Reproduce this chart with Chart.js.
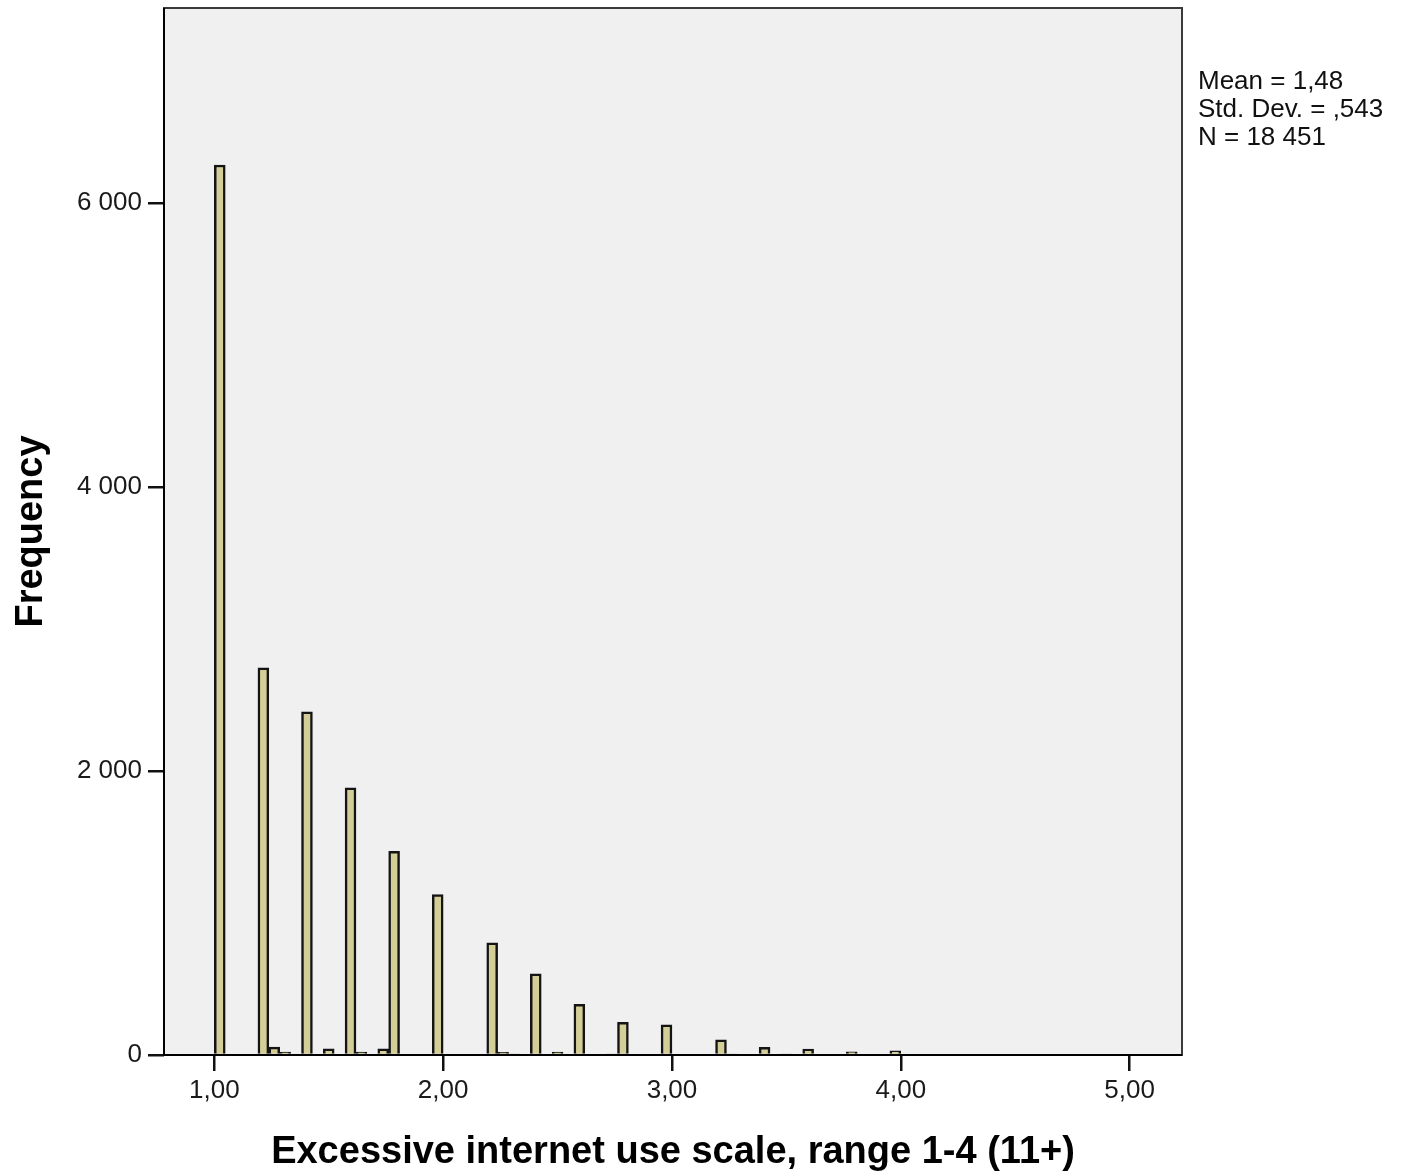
<!DOCTYPE html>
<html>
<head>
<meta charset="utf-8">
<script src="https://cdn.jsdelivr.net/npm/chart.js@4.4.0/dist/chart.umd.min.js"></script>
<style>
    body { margin: 0; background: #fff; }
    #wrap { width: 1408px; height: 1175px; position: relative; }
</style>
</head>
<body>
<div id="wrap"><canvas id="histograma"></canvas></div>
<script>
// midpoints of the bins (width 1/21) that hold any cases
const binMid = [1.0238, 1.2143, 1.2619, 1.3095, 1.4048, 1.5, 1.5952, 1.6429, 1.7381, 1.7857,
    1.9762, 2.2143, 2.2619, 2.3095, 2.4048, 2.5, 2.5952, 2.7381, 2.7857, 2.9762,
    3.2143, 3.2619, 3.4048, 3.5, 3.5952, 3.7857, 3.9762];
const frequencia = [6270, 2727, 55, 20, 2417, 44, 1882, 20, 44, 1435,
    1130, 790, 18, 5, 572, 20, 357, 5, 230, 212,
    106, 5, 54, 5, 42, 23, 30];

const xTicks = [1, 2, 3, 4, 5];
const yTicks = [0, 2000, 4000, 6000];
const estatisticas = ['Mean = 1,48', 'Std. Dev. = ,543', 'N = 18 451'];

const fonte = 'Liberation Sans, Arial, sans-serif';

// fundo cinza e moldura da área do gráfico + caixa de estatísticas
const molduraPlugin = {
    id: 'moldura',
    beforeDatasetsDraw(chart) {
        const { ctx, chartArea: a } = chart;
        ctx.save();
        ctx.fillStyle = '#f0f0f0';
        ctx.fillRect(a.left, a.top, a.right - a.left, a.bottom - a.top);
        ctx.restore();
    },
    afterDatasetsDraw(chart) {
        const { ctx, chartArea: a } = chart;
        ctx.save();
        ctx.strokeStyle = '#3a3a3a';
        ctx.lineWidth = 2;
        ctx.strokeRect(a.left, a.top, a.right - a.left, a.bottom - a.top);
        ctx.strokeStyle = '#000';
        ctx.beginPath();
        ctx.moveTo(a.left, a.top);
        ctx.lineTo(a.left, a.bottom);
        ctx.lineTo(a.right, a.bottom);
        ctx.stroke();

        ctx.fillStyle = '#111';
        ctx.font = '26px ' + fonte;
        ctx.textAlign = 'left';
        ctx.textBaseline = 'alphabetic';
        estatisticas.forEach(function (linha, i) {
            ctx.fillText(linha, a.right + 16, 89 + i * 28);
        });
        ctx.restore();
    }
};

const ctx = document.getElementById('histograma').getContext('2d');
const histograma = new Chart(ctx, {
    type: 'bar',
    data: {
        datasets: [{
            label: 'Frequency',
            data: binMid.map((x, i) => ({ x: x, y: frequencia[i] })),
            backgroundColor: '#d3cd97',
            borderColor: '#141414',
            borderWidth: 2.5,
            barPercentage: 1,
            categoryPercentage: 1
        }]
    },
    options: {
        responsive: true,
        maintainAspectRatio: false,
        animation: false,
        devicePixelRatio: 1,
        layout: { padding: { left: 0, right: 226, top: 8, bottom: 0 } },
        plugins: {
            legend: { display: false },
            tooltip: { enabled: false }
        },
        scales: {
            x: {
                type: 'linear',
                offset: false,
                min: 0.78,
                max: 5.229,
                afterFit: function (scale) {
                    scale.height = 120;
                    scale.paddingLeft = 0;
                    scale.paddingRight = 0;
                },
                afterBuildTicks: function (scale) {
                    scale.ticks = xTicks.map(v => ({ value: v }));
                },
                grid: {
                    offset: false,
                    drawOnChartArea: false,
                    drawTicks: true,
                    tickLength: 16,
                    color: '#111',
                    lineWidth: 2.5
                },
                border: { display: false },
                ticks: {
                    padding: 4,
                    color: '#1a1a1a',
                    font: { family: fonte, size: 26 },
                    callback: function (value) {
                        return value.toFixed(2).replace('.', ',');
                    }
                },
                title: {
                    display: true,
                    text: 'Excessive internet use scale, range 1-4 (11+)',
                    color: '#000',
                    font: { family: fonte, size: 38, weight: 'bold' },
                    padding: { top: 0, bottom: 0 }
                }
            },
            y: {
                min: 0,
                max: 7376,
                afterFit: function (scale) {
                    scale.width = 164;
                    scale.paddingTop = 0;
                    scale.paddingBottom = 0;
                },
                afterBuildTicks: function (scale) {
                    scale.ticks = yTicks.map(v => ({ value: v }));
                },
                grid: {
                    drawOnChartArea: false,
                    drawTicks: true,
                    tickLength: 16,
                    color: '#111',
                    lineWidth: 2.5
                },
                border: { display: false },
                ticks: {
                    padding: 6,
                    color: '#1a1a1a',
                    font: { family: fonte, size: 26 },
                    callback: function (value) {
                        return String(value).replace(/\B(?=(\d{3})+(?!\d))/g, ' ');
                    }
                },
                title: {
                    display: true,
                    text: 'Frequency',
                    color: '#000',
                    font: { family: fonte, size: 38, weight: 'bold' },
                    padding: { top: 9, bottom: 0 }
                }
            }
        }
    },
    plugins: [molduraPlugin]
});
</script>
</body>
</html>
